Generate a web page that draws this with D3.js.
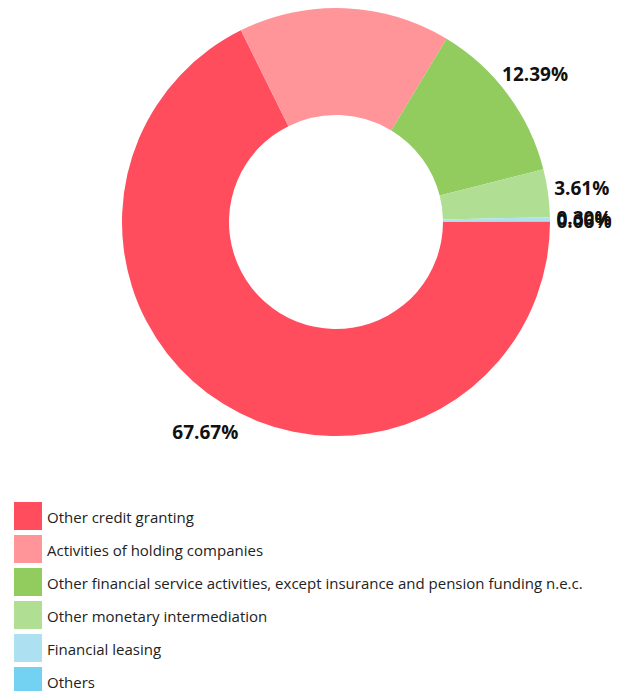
<!DOCTYPE html>
<html>
<head>
<meta charset="utf-8">
<script src="https://cdn.jsdelivr.net/npm/d3@7"></script>
<style>
  html, body { margin: 0; padding: 0; background: #fff; }
  svg { display: block; }
</style>
</head>
<body>
<svg id="chart" width="625" height="691"></svg>
<script>
// Sector breakdown (share of total, %)
const categories = [
  "Other credit granting",
  "Activities of holding companies",
  "Other financial service activities, except insurance and pension funding n.e.c.",
  "Other monetary intermediation",
  "Financial leasing",
  "Others"
];
const shares = [67.67, 15.97, 12.39, 3.61, 0.30, 0.06];
const showLabel = [true, false, true, true, true, true];
const colors = ["#ff4d5e", "#ff9599", "#92cc5f", "#b0de93", "#ade1f2", "#73d2f2"];

const svg = d3.select("#chart");
const cx = 336, cy = 222, outerR = 214, innerR = 107, labelR = 248;
const fontFamily = "'Open Sans', 'Noto Sans', sans-serif";

const data = categories.map((c, i) => ({ name: c, value: shares[i], color: colors[i], label: showLabel[i] }));

const pie = d3.pie()
  .value(d => d.value)
  .sort(null)
  .startAngle(Math.PI / 2)
  .endAngle(Math.PI / 2 + 2 * Math.PI);

const arc = d3.arc().innerRadius(innerR).outerRadius(outerR);
const labelArc = d3.arc().innerRadius(labelR).outerRadius(labelR);

const g = svg.append("g").attr("transform", `translate(${cx},${cy})`);
const arcs = pie(data);

g.selectAll("path.slice")
  .data(arcs)
  .join("path")
  .attr("class", "slice")
  .attr("d", arc)
  .attr("fill", d => d.data.color);

g.selectAll("text.val")
  .data(arcs.filter(d => d.data.label))
  .join("text")
  .attr("class", "val")
  .attr("transform", d => `translate(${labelArc.centroid(d)})`)
  .attr("text-anchor", "middle")
  .attr("dy", "0.35em")
  .attr("font-family", fontFamily)
  .attr("font-weight", "bold")
  .attr("font-size", 19)
  .attr("fill", "#111")
  .text(d => d3.format(".2f")(d.data.value) + "%");

// Legend
const legend = svg.append("g").attr("transform", "translate(14,502)");
const rowStep = 33;
const items = legend.selectAll("g.item")
  .data(data)
  .join("g")
  .attr("class", "item")
  .attr("transform", (d, i) => `translate(0,${i * rowStep})`);

items.append("rect")
  .attr("width", 28)
  .attr("height", 28)
  .attr("fill", d => d.color);

items.append("text")
  .attr("x", 33)
  .attr("y", 16)
  .attr("dy", "0.35em")
  .attr("font-family", fontFamily)
  .attr("font-size", 15)
  .attr("fill", "#222")
  .text(d => d.name);
</script>
</body>
</html>
